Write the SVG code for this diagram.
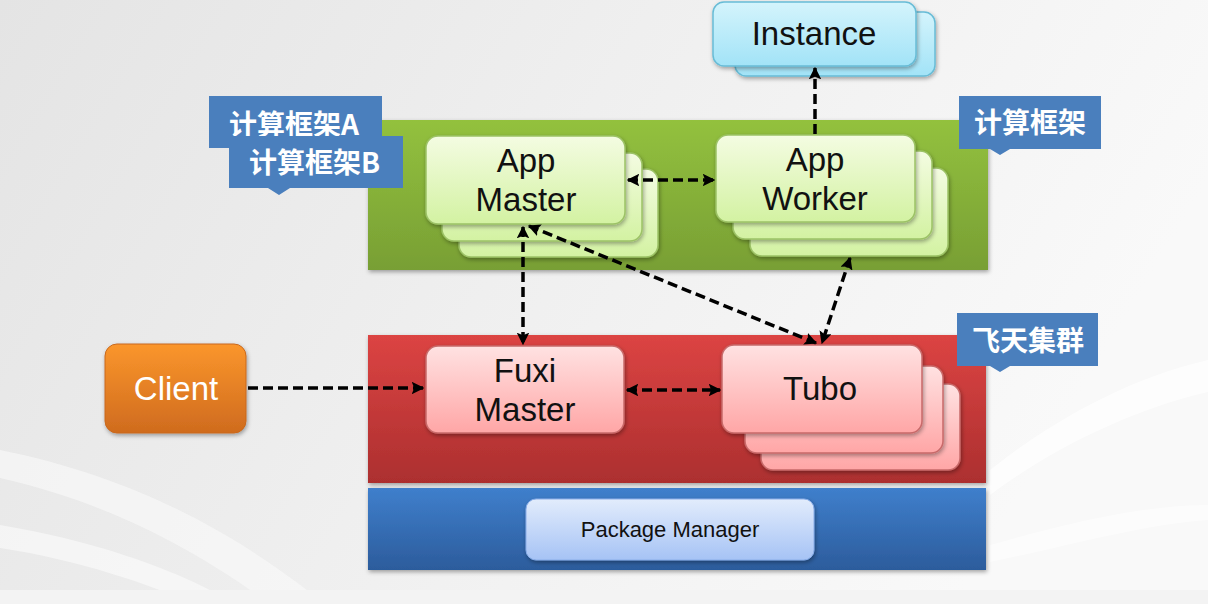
<svg xmlns="http://www.w3.org/2000/svg" width="1208" height="604" viewBox="0 0 1208 604">
<style>
.lat{font-family:"Liberation Sans","Noto Sans",sans-serif;fill:#111;text-anchor:middle}
.big{font-size:33px}
.cn{font-family:"Noto Sans CJK SC","Noto Sans",sans-serif;font-weight:bold;font-size:28px;fill:#fff}
.conn{fill:none;stroke:#000;stroke-width:3.5;stroke-dasharray:10 5}
.gcard{fill:url(#gGreen);stroke:#9cc266;stroke-width:1.5}
.pcard{fill:url(#gPink);stroke:#c86a6a;stroke-width:1.5}
.ccard{fill:url(#gCyan);stroke:#68bcd6;stroke-width:1.5}
.tag{fill:#4a7fbd}
</style>
<defs>
<linearGradient id="bg" x1="0" y1="0" x2="1" y2="0.3">
<stop offset="0" stop-color="#e4e4e4"/><stop offset="0.5" stop-color="#efefef"/><stop offset="1" stop-color="#f9f9f9"/>
</linearGradient>
<linearGradient id="gPanelG" x1="0" y1="0" x2="0" y2="1"><stop offset="0" stop-color="#93c13e"/><stop offset="1" stop-color="#789f34"/></linearGradient>
<linearGradient id="gPanelR" x1="0" y1="0" x2="0" y2="1"><stop offset="0" stop-color="#dc4443"/><stop offset="1" stop-color="#ac2f2f"/></linearGradient>
<linearGradient id="gPanelB" x1="0" y1="0" x2="0" y2="1"><stop offset="0" stop-color="#3f7fcc"/><stop offset="1" stop-color="#2c5c9c"/></linearGradient>
<linearGradient id="gGreen" x1="0" y1="0" x2="0" y2="1"><stop offset="0" stop-color="#f4fce2"/><stop offset="1" stop-color="#d3f2a2"/></linearGradient>
<linearGradient id="gPink" x1="0" y1="0" x2="0" y2="1"><stop offset="0" stop-color="#ffe2e2"/><stop offset="1" stop-color="#ffa6a6"/></linearGradient>
<linearGradient id="gCyan" x1="0" y1="0" x2="0" y2="1"><stop offset="0" stop-color="#d4f4fc"/><stop offset="1" stop-color="#a2e3f7"/></linearGradient>
<linearGradient id="gOrange" x1="0" y1="0" x2="0" y2="1"><stop offset="0" stop-color="#fb962c"/><stop offset="1" stop-color="#cf6b1e"/></linearGradient>
<linearGradient id="gPkg" x1="0" y1="0" x2="0" y2="1"><stop offset="0" stop-color="#e2ecfc"/><stop offset="1" stop-color="#a6c3f5"/></linearGradient>
<filter id="sh" x="-10%" y="-10%" width="130%" height="130%"><feDropShadow dx="1" dy="2" stdDeviation="2" flood-color="#000" flood-opacity="0.35"/></filter>
<marker id="ah" viewBox="0 0 10 10" refX="9" refY="5" markerWidth="3.6" markerHeight="3.6" orient="auto-start-reverse" markerUnits="strokeWidth">
<path d="M0,0 L10,5 L0,10 L2,5 z" fill="#000"/>
</marker>
</defs>
<rect x="0" y="0" width="1208" height="604" fill="url(#bg)"/>
<path d="M0,450 C150,480 250,545 320,600 L270,604 C210,560 120,505 0,478 z" fill="#fafafa" opacity="0.6"/>
<path d="M0,525 C120,545 200,582 235,604 L195,604 C150,585 80,560 0,548 z" fill="#ffffff" opacity="0.5"/>
<path d="M1208,360 C1120,380 1040,430 990,470 L990,495 C1050,450 1130,410 1208,392 z" fill="#ffffff" opacity="0.7"/>
<path d="M990,545 C1060,525 1140,505 1208,505 L1208,520 C1140,525 1060,548 990,562 z" fill="#ffffff" opacity="0.5"/>
<rect x="0" y="590" width="1208" height="14" fill="#f3f3f3"/>

<g id="panel-framework"><rect x="368" y="120" width="620" height="150" fill="url(#gPanelG)" filter="url(#sh)"/></g>
<g id="panel-cluster"><rect x="368" y="335" width="618" height="148" fill="url(#gPanelR)" filter="url(#sh)"/></g>
<g id="panel-package"><rect x="368" y="488" width="618" height="82" fill="url(#gPanelB)" filter="url(#sh)"/></g>

<g id="tag-frameworkA">
<rect class="tag" x="209" y="96" width="173" height="52"/>
<text class="cn" x="229" y="135">计算框架A</text>
</g>
<g id="tag-frameworkB">
<path class="tag" d="M229,136 H403 V188 H290 L279,195 L268,188 H229 z"/>
<text class="cn" x="249" y="173">计算框架B</text>
</g>
<g id="tag-framework">
<path class="tag" d="M959,96 H1101 V149 H1010 L1000,155 L990,149 H959 z"/>
<text class="cn" x="1030" y="133" text-anchor="middle">计算框架</text>
</g>
<g id="tag-cluster">
<path class="tag" d="M957,313 H1098 V366 H1010 L1000,372 L990,366 H957 z"/>
<text class="cn" x="1028" y="351" text-anchor="middle">飞天集群</text>
</g>

<g id="instance">
<rect class="ccard" x="735" y="12" width="200" height="64" rx="11" filter="url(#sh)"/>
<rect class="ccard" x="713" y="2" width="203" height="64" rx="11" filter="url(#sh)"/>
<text class="lat big" x="814" y="45">Instance</text>
</g>

<g id="app-master">
<rect class="gcard" x="459" y="169" width="199" height="88" rx="12" filter="url(#sh)"/>
<rect class="gcard" x="442" y="153" width="200" height="88" rx="12" filter="url(#sh)"/>
<rect class="gcard" x="426" y="136" width="199" height="88" rx="12" filter="url(#sh)"/>
<text class="lat big" x="526" y="172">App</text>
<text class="lat big" x="526" y="211">Master</text>
</g>

<g id="app-worker">
<rect class="gcard" x="750" y="168" width="198" height="88" rx="12" filter="url(#sh)"/>
<rect class="gcard" x="733" y="151" width="199" height="88" rx="12" filter="url(#sh)"/>
<rect class="gcard" x="716" y="135" width="199" height="87" rx="12" filter="url(#sh)"/>
<text class="lat big" x="815" y="171">App</text>
<text class="lat big" x="815" y="210">Worker</text>
</g>

<g id="fuxi-master">
<rect class="pcard" x="426" y="346" width="198" height="87" rx="12" filter="url(#sh)"/>
<text class="lat big" x="525" y="382">Fuxi</text>
<text class="lat big" x="525" y="421">Master</text>
</g>

<g id="tubo">
<rect class="pcard" x="761" y="384" width="199" height="86" rx="12" filter="url(#sh)"/>
<rect class="pcard" x="745" y="366" width="198" height="87" rx="12" filter="url(#sh)"/>
<rect class="pcard" x="722" y="345" width="200" height="88" rx="12" filter="url(#sh)"/>
<text class="lat big" x="820" y="400">Tubo</text>
</g>

<g id="client">
<rect x="105" y="344" width="141" height="89" rx="12" fill="url(#gOrange)" stroke="#c8691e" stroke-width="1" filter="url(#sh)"/>
<text class="lat big" x="176" y="400" style="fill:#fff">Client</text>
</g>

<g id="package-manager">
<rect x="526" y="499" width="288" height="61" rx="10" fill="url(#gPkg)" stroke="#8aaee8" stroke-width="1" filter="url(#sh)"/>
<text class="lat" x="670" y="537" font-size="22">Package Manager</text>
</g>

<g id="connectors">
<line class="conn" x1="815" y1="134" x2="815" y2="68" marker-end="url(#ah)"/>
<line class="conn" x1="628" y1="180" x2="714" y2="180" marker-start="url(#ah)" marker-end="url(#ah)"/>
<line class="conn" x1="523" y1="227" x2="523" y2="344" marker-start="url(#ah)" marker-end="url(#ah)"/>
<line class="conn" x1="529" y1="226" x2="816" y2="343" marker-start="url(#ah)" marker-end="url(#ah)"/>
<line class="conn" x1="850" y1="258" x2="822" y2="343" marker-start="url(#ah)" marker-end="url(#ah)"/>
<line class="conn" x1="248" y1="388" x2="423" y2="388" marker-end="url(#ah)"/>
<line class="conn" x1="627" y1="390" x2="720" y2="390" marker-start="url(#ah)" marker-end="url(#ah)"/>
</g>
</svg>
